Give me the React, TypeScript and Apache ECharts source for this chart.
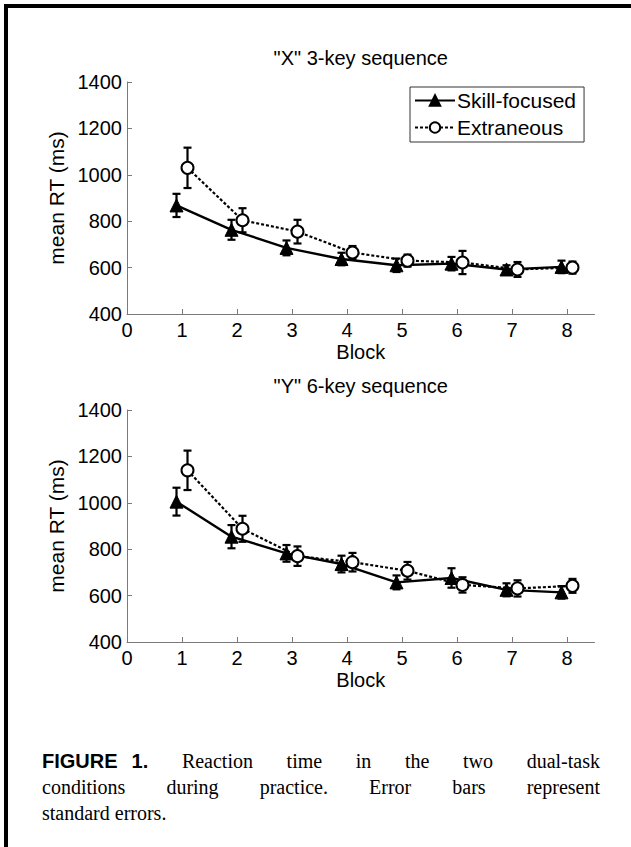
import React, { useEffect, useRef } from "react";
import * as echarts from "echarts";

const blocks = [1, 2, 3, 4, 5, 6, 7, 8];
const xTicks = [0, 1, 2, 3, 4, 5, 6, 7, 8];
const yTicks = [400, 600, 800, 1000, 1200, 1400];

// "X" 3-key sequence
const skillX = [868, 763, 685, 637, 610, 617, 592, 603];
const skillXse = [50, 43, 32, 27, 29, 29, 18, 27];
const extraX = [1030, 804, 755, 665, 630, 622, 592, 600];
const extraXse = [87, 52, 51, 28, 26, 50, 32, 26];

// "Y" 6-key sequence
const skillY = [1005, 854, 782, 736, 657, 676, 625, 614];
const skillYse = [60, 50, 36, 36, 30, 42, 28, 27];
const extraY = [1140, 888, 770, 744, 707, 646, 631, 642];
const extraYse = [85, 56, 42, 40, 38, 33, 35, 30];

const titles = ['"X" 3-key sequence', '"Y" 6-key sequence'];
const seriesNames = ["Skill-focused", "Extraneous"];
const offset = 0.1;

const FONT = "Liberation Sans, Arial, sans-serif";
const SERIF = "Liberation Serif, Times New Roman, serif";

export default function App() {
  const ref = useRef<HTMLDivElement>(null);

  useEffect(() => {
    if (!ref.current) return;
    const chart = echarts.init(ref.current, undefined, { renderer: "svg" });

    const grids = [
      { left: 127, width: 467.5, top: 82, height: 232 },
      { left: 127, width: 467.5, top: 410, height: 232 },
    ];

    const axisColor = "#7a7a7a";
    const xAxes = grids.map((_, i) => ({
      type: "value",
      gridIndex: i,
      min: 0,
      max: 8.5,
      interval: 1,
      name: "Block",
      nameLocation: "middle",
      nameGap: 28,
      nameTextStyle: { fontFamily: FONT, fontSize: 20, color: "#000" },
      axisLine: { show: true, lineStyle: { color: axisColor, width: 1 } },
      axisTick: { show: true, inside: true, length: 5, lineStyle: { color: axisColor }, customValues: xTicks },
      axisLabel: { fontFamily: FONT, fontSize: 20, color: "#000", margin: 6, customValues: xTicks },
      splitLine: { show: false },
    }));
    const yAxes = grids.map((_, i) => ({
      type: "value",
      gridIndex: i,
      min: 400,
      max: 1400,
      interval: 200,
      name: "mean RT (ms)",
      nameLocation: "middle",
      nameGap: 58,
      nameTextStyle: { fontFamily: FONT, fontSize: 21, color: "#000" },
      axisLine: { show: true, lineStyle: { color: axisColor, width: 1 } },
      axisTick: { show: true, inside: true, length: 5, lineStyle: { color: axisColor }, customValues: yTicks },
      axisLabel: {
        fontFamily: FONT,
        fontSize: 20,
        color: "#000",
        margin: 5,
        customValues: yTicks,
        formatter: (v: number) => String(v),
      },
      splitLine: { show: false },
    }));

    const sets = [
      { s: skillX, sse: skillXse, e: extraX, ese: extraXse },
      { s: skillY, sse: skillYse, e: extraY, ese: extraYse },
    ];

    const errSeries = (means: number[], ses: number[], dx: number, gi: number) => ({
      type: "custom",
      xAxisIndex: gi,
      yAxisIndex: gi,
      silent: true,
      z: 3,
      data: blocks.map((b, k) => [b + dx, means[k] - ses[k], means[k] + ses[k]]),
      renderItem: (params: any, api: any) => {
        const x = api.value(0);
        const lo = api.coord([x, api.value(1)]);
        const hi = api.coord([x, api.value(2)]);
        const cap = 4;
        const st = { stroke: "#000", lineWidth: 2.2 };
        return {
          type: "group",
          children: [
            { type: "line", shape: { x1: lo[0], y1: lo[1], x2: hi[0], y2: hi[1] }, style: st },
            { type: "line", shape: { x1: lo[0] - cap, y1: lo[1], x2: lo[0] + cap, y2: lo[1] }, style: st },
            { type: "line", shape: { x1: hi[0] - cap, y1: hi[1], x2: hi[0] + cap, y2: hi[1] }, style: st },
          ],
        };
      },
    });

    const series: any[] = [];
    sets.forEach((d, gi) => {
      series.push(errSeries(d.s, d.sse, -offset, gi));
      series.push(errSeries(d.e, d.ese, offset, gi));
      series.push({
        name: seriesNames[0],
        type: "line",
        xAxisIndex: gi,
        yAxisIndex: gi,
        z: 4,
        data: blocks.map((b, k) => [b - offset, d.s[k]]),
        symbol: "triangle",
        symbolSize: 13,
        itemStyle: { color: "#000", borderColor: "#000", borderWidth: 1 },
        lineStyle: { color: "#000", width: 2.4, type: "solid" },
      });
      series.push({
        name: seriesNames[1],
        type: "line",
        xAxisIndex: gi,
        yAxisIndex: gi,
        z: 5,
        data: blocks.map((b, k) => [b + offset, d.e[k]]),
        symbol: "circle",
        symbolSize: 12,
        itemStyle: { color: "#fff", borderColor: "#000", borderWidth: 2 },
        lineStyle: { color: "#000", width: 2.2, type: [3, 2] },
      });
    });

    chart.setOption({
      animation: false,
      backgroundColor: "#fff",
      title: titles.map((t, i) => ({
        text: t,
        left: grids[i].left + grids[i].width / 2,
        textAlign: "center",
        top: grids[i].top - 34,
        padding: 0,
        textStyle: { fontFamily: FONT, fontSize: 20, fontWeight: "normal", color: "#000" },
      })),
      legend: {
        data: seriesNames,
        orient: "vertical",
        left: 410,
        top: 87,
        backgroundColor: "#fff",
        borderColor: "#333",
        borderWidth: 1,
        padding: [3, 8, 4, 4],
        itemGap: 6,
        itemWidth: 40,
        itemHeight: 13,
        textStyle: { fontFamily: FONT, fontSize: 21, color: "#000", padding: [0, 0, 0, -3] },
      },
      grid: grids,
      xAxis: xAxes,
      yAxis: yAxes,
      series,
    });

    return () => chart.dispose();
  }, []);

  const lineStyle: React.CSSProperties = {
    textAlign: "justify",
    textAlignLast: "justify",
    whiteSpace: "nowrap",
    height: 26,
  };

  return (
    <div
      style={{
        position: "absolute",
        left: 0,
        top: 0,
        width: 631,
        height: 847,
        background: "#fff",
        overflow: "hidden",
      }}
    >
      <div ref={ref} style={{ position: "absolute", left: 0, top: 0, width: 631, height: 847 }} />
      <div style={{ position: "absolute", left: 4, top: 4, width: 627, height: 4, background: "#000" }} />
      <div style={{ position: "absolute", left: 4, top: 4, width: 4, height: 843, background: "#000" }} />
      <div
        style={{
          position: "absolute",
          left: 42,
          top: 748,
          width: 558,
          fontFamily: SERIF,
          fontSize: 20,
          lineHeight: "26px",
          color: "#000",
        }}
      >
        <div style={lineStyle}>
          <span style={{ display: "inline-block", fontFamily: FONT, fontWeight: "bold" }}>
            FIGURE<span style={{ marginLeft: 14 }}>1.</span>
          </span>{" "}
          Reaction time in the two dual-task
        </div>
        <div style={lineStyle}>conditions during practice. Error bars represent</div>
        <div style={{ textAlign: "left", height: 26 }}>standard errors.</div>
      </div>
    </div>
  );
}
